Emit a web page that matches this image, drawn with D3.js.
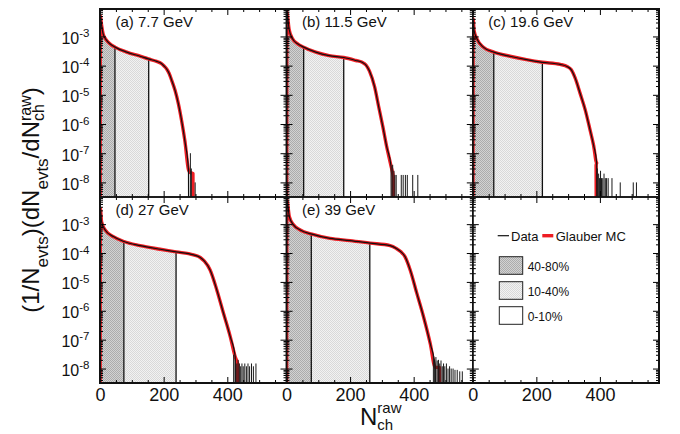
<!DOCTYPE html>
<html><head><meta charset="utf-8">
<script src="https://cdn.jsdelivr.net/npm/d3@7"></script>
<style>
body{margin:0;background:#fff}
svg{display:block}
text{font-family:"Liberation Sans",Arial,Helvetica,sans-serif;fill:#111}
</style></head>
<body><svg id="c" width="680" height="434"></svg>
<script>
// ---------------- data ----------------
const panelLabels = ["(a) 7.7 GeV", "(b) 11.5 GeV", "(c) 19.6 GeV", "(d) 27 GeV", "(e) 39 GeV"];
// centrality cut positions (N_ch^raw) : 40% and 10%
const cut40 = [47, 54, 66, 75, 78];
const cut10 = [153, 180, 219, 239, 262];
// main distributions [N_ch^raw, (1/Nevts) dN/dN_ch]
const body_a = [[1,5.2e-3],[5,2.4e-3],[10,1.2e-3],[21,7.3e-4],[31,5.6e-4],[47,4.3e-4],[84,2.9e-4],[126,2.1e-4],[152,1.7e-4],[178,1.4e-4],[192,1.2e-4],[202,9.5e-5],[210,7.5e-5],[217,5.5e-5],[225,3.2e-5],[236,1.4e-5],[246,5.1e-6],[257,1.2e-6],[267,2.5e-7],[278,2.7e-8]];
const body_b = [[1,7e-3],[8,1.8e-3],[19,8.3e-4],[35,5.6e-4],[54,4.3e-4],[92,2.9e-4],[134,2.2e-4],[180,1.9e-4],[218,1.5e-4],[238,1.3e-4],[250,1.05e-4],[261,6.5e-5],[277,1.9e-5],[290,3.9e-6],[303,8.1e-7],[315,1.7e-7],[329,3.5e-8]];
const body_c = [[1,4e-3],[4,1.6e-3],[13,8.3e-4],[33,4.3e-4],[66,2.9e-4],[117,2.1e-4],[169,1.6e-4],[219,1.3e-4],[275,1.1e-4],[298,9.2e-5],[310,7.2e-5],[322,3.8e-5],[338,1.1e-5],[354,3e-6],[369,6.3e-7],[380,1.9e-7],[390,4.6e-8]];
const body_d = [[1,3.6e-3],[5,1.2e-3],[16,6.3e-4],[42,3.7e-4],[75,2.5e-4],[126,1.8e-4],[189,1.35e-4],[239,1.1e-4],[294,8.6e-5],[315,7e-5],[328,5.2e-5],[346,2.6e-5],[367,5.3e-6],[388,8.2e-7],[409,1.3e-7],[425,2.5e-8]];
const body_e = [[1,7e-3],[9,1.8e-3],[22,9.5e-4],[43,6.3e-4],[80,4.5e-4],[137,3.2e-4],[200,2.7e-4],[263,2.2e-4],[326,1.8e-4],[345,1.45e-4],[360,1.1e-4],[373,7.4e-5],[389,2.6e-5],[410,4e-6],[431,6.2e-7],[452,7.4e-8],[468,1.1e-8]];
// Glauber MC end of tail
const mcTail_a = [[283,2.2e-8],[292,2e-8]];
const mcTail_b = [[336,1.5e-8]];
const mcTail_c = [[388,4e-8]];
const mcTail_d = [[432,1.5e-8]];
const mcTail_e = [[474,1.1e-8],[481,1.1e-8]];
// Data: isolated single-event bins in the tail
const spikes_a = [[284,1e-7],[287,3e-8],[299,1e-8]];
const spikes_b = [[334,4e-8],[338,2.5e-8],[341,1.8e-8],[345,1.8e-8],[361,1.8e-8],[367,1.8e-8],[374,1.8e-8],[380,1.8e-8],[397,1.8e-8],[413,1.8e-8]];
const spikes_c = [[392,3e-8],[396,2e-8],[399,1.4e-8],[402,2.5e-8],[405,1.4e-8],[409,1.4e-8],[413,2e-8],[417,1.4e-8],[421,1.4e-8],[426,1.4e-8],[438,1.4e-8],[464,1e-8],[505,1e-8],[515,1e-8]];
const spikes_d = [[420,3e-8],[425,2e-8],[430,1.5e-8],[434,2e-8],[438,1.5e-8],[442,1.2e-8],[446,1.5e-8],[450,1.2e-8],[455,1.5e-8],[460,1.2e-8],[465,1.5e-8],[470,1.2e-8],[476,1.5e-8],[482,1.2e-8],[490,1.5e-8]];
const spikes_e = [[462,3e-8],[466,2e-8],[470,2.5e-8],[474,1.9e-8],[478,2e-8],[482,1.5e-8],[486,1.9e-8],[490,1.2e-8],[494,1.5e-8],[498,1.2e-8],[503,1.5e-8],[508,1e-8],[513,1.2e-8],[518,1e-8],[524,1e-8],[530,9e-9],[537,9e-9],[545,8e-9],[553,8e-9]];
const xTickLabels = [0, 200, 400];
const yTickExps = [-8, -7, -6, -5, -4, -3];
const legendSeries = ["Data", "Glauber MC"];
const legendClasses = ["40-80%", "10-40%", "0-10%"];

// ---------------- layout ----------------
const FLOOR = 1e-9;
const X_MAX = 586;
const Y_MIN = Math.pow(10, -8.5), Y_MAX = Math.pow(10, -2.06);
const colX = [100, 286.5, 472.8, 659];
const rowY = [9, 197, 383];
const RED = "#ee1d23";

const svg = d3.select("#c");
const defs = svg.append("defs");
function pattern(id, a, b) {
  const p = defs.append("pattern").attr("id", id).attr("width", 2).attr("height", 2).attr("patternUnits", "userSpaceOnUse");
  p.append("rect").attr("width", 2).attr("height", 2).attr("fill", a);
  p.append("rect").attr("width", 1).attr("height", 1).attr("fill", b);
  p.append("rect").attr("x", 1).attr("y", 1).attr("width", 1).attr("height", 1).attr("fill", b);
}
pattern("pDark", "#d2d2d2", "#acacac");
pattern("pLight", "#f2f2f2", "#d9d9d9");

const panels = [
  {body: body_a, tail: mcTail_a, spikes: spikes_a},
  {body: body_b, tail: mcTail_b, spikes: spikes_b},
  {body: body_c, tail: mcTail_c, spikes: spikes_c},
  {body: body_d, tail: mcTail_d, spikes: spikes_d},
  {body: body_e, tail: mcTail_e, spikes: spikes_e}
];

const yMinor = [];
for (let e = -9; e <= -2; e++) for (let k = 2; k <= 9; k++) { const v = k * Math.pow(10, e); if (v >= Y_MIN && v <= Y_MAX) yMinor.push(v); }
const yMajor = yTickExps.map(e => Math.pow(10, e));
const xMinor = d3.range(0, X_MAX, 50).filter(n => n % 200 !== 0);
const xMajor = d3.range(0, X_MAX, 200);

for (let i = 0; i < 6; i++) {
  const col = i % 3, row = Math.floor(i / 3);
  const x0 = colX[col], x1 = colX[col + 1], y0 = rowY[row], y1 = rowY[row + 1];
  const x = d3.scaleLinear().domain([0, X_MAX]).range([x0, x1]);
  const y = d3.scaleLog().domain([Y_MIN, Y_MAX]).range([y1, y0]);
  const g = svg.append("g");
  defs.append("clipPath").attr("id", "cp" + i).append("rect")
    .attr("x", x0).attr("y", y0).attr("width", x1 - x0).attr("height", y1 - y0);

  if (i < 5) {
    const p = panels[i];
    const last = p.body[p.body.length - 1][0];
    const dataPts = [[p.body[0][0] - 0.5, FLOOR], ...p.body, [last + 0.5, FLOOR]];
    const tl = p.tail[p.tail.length - 1][0];
    const mcPts = [[p.body[0][0] - 0.5, FLOOR], ...p.body, ...p.tail, [tl + 0.5, FLOOR]];
    const line = d3.line().x(d => x(d[0])).y(d => y(d[1])).curve(d3.curveMonotoneX);
    const area = d3.area().x(d => x(d[0])).y0(y(FLOOR)).y1(d => y(d[1])).curve(d3.curveMonotoneX);
    defs.append("clipPath").attr("id", "ua" + i).append("path").attr("d", area(dataPts));

    const inner = g.append("g").attr("clip-path", `url(#cp${i})`);
    const shade = inner.append("g").attr("clip-path", `url(#ua${i})`);
    shade.append("rect").attr("x", x(0)).attr("y", y0).attr("width", x(cut40[i]) - x(0)).attr("height", y1 - y0).attr("fill", "url(#pDark)");
    shade.append("rect").attr("x", x(cut40[i])).attr("y", y0).attr("width", x(cut10[i]) - x(cut40[i])).attr("height", y1 - y0).attr("fill", "url(#pLight)");
    [cut40[i], cut10[i]].forEach(c => {
      shade.append("line").attr("x1", x(c)).attr("x2", x(c)).attr("y1", y0).attr("y2", y1)
        .attr("stroke", "#111").attr("stroke-width", 1.3);
    });
    inner.append("path").attr("d", line(mcPts)).attr("fill", "none").attr("stroke", RED).attr("stroke-width", 3.4).attr("stroke-linejoin", "round");
    inner.append("path").attr("d", line(dataPts)).attr("fill", "none").attr("stroke", "#111").attr("stroke-width", 1.2);
    inner.selectAll("line.sp").data(p.spikes).join("line").attr("class", "sp")
      .attr("x1", d => x(d[0])).attr("x2", d => x(d[0])).attr("y1", y(FLOOR)).attr("y2", d => y(d[1]))
      .attr("stroke", "#1a1a1a").attr("stroke-width", 1);

    g.append("text").attr("x", x0 + 15.5).attr("y", y0 + 17.7).attr("font-size", 15).text(panelLabels[i]);
  }

  // axes (ticks inward on all 4 sides)
  const strip = s => s.call(a => a.select(".domain").remove());
  g.append("g").attr("transform", `translate(0,${y1})`).call(d3.axisBottom(x).tickValues(xMinor).tickSizeInner(-3).tickSizeOuter(0).tickFormat("")).call(strip);
  const xb = g.append("g").attr("transform", `translate(0,${y1})`)
    .call(d3.axisBottom(x).tickValues(row === 1 ? xTickLabels : xMajor).tickSizeInner(-6).tickSizeOuter(0).tickPadding(5)
      .tickFormat(row === 1 ? d3.format("d") : "")).call(strip);
  xb.selectAll("text").attr("font-size", 18).attr("fill", "#111").attr("font-family", null);
  g.append("g").attr("transform", `translate(0,${y0})`).call(d3.axisTop(x).tickValues(xMinor).tickSizeInner(-3).tickSizeOuter(0).tickFormat("")).call(strip);
  g.append("g").attr("transform", `translate(0,${y0})`).call(d3.axisTop(x).tickValues(xMajor).tickSizeInner(-6).tickSizeOuter(0).tickFormat("")).call(strip);
  g.append("g").attr("transform", `translate(${x0},0)`).call(d3.axisLeft(y).tickValues(yMinor).tickSizeInner(-3).tickSizeOuter(0).tickFormat("")).call(strip);
  const yl = g.append("g").attr("transform", `translate(${x0},0)`)
    .call(d3.axisLeft(y).tickValues(yMajor).tickSizeInner(-6).tickSizeOuter(0).tickPadding(10.5).tickFormat(col === 0 ? (d => "x") : "")).call(strip);
  if (col === 0) {
    yl.selectAll(".tick text").each(function(d) {
      const t = d3.select(this);
      t.text(null).attr("dy", 6.8).attr("font-size", 16).attr("font-family", null).attr("fill", "#111");
      t.append("tspan").text("10");
      t.append("tspan").attr("dy", -6.6).attr("font-size", 11.5).text(String(Math.round(Math.log10(d))));
    });
  }
  g.append("g").attr("transform", `translate(${x1},0)`).call(d3.axisRight(y).tickValues(yMinor).tickSizeInner(-3).tickSizeOuter(0).tickFormat("")).call(strip);
  g.append("g").attr("transform", `translate(${x1},0)`).call(d3.axisRight(y).tickValues(yMajor).tickSizeInner(-6).tickSizeOuter(0).tickFormat("")).call(strip);

  g.append("rect").attr("x", x0).attr("y", y0).attr("width", x1 - x0).attr("height", y1 - y0)
    .attr("fill", "none").attr("stroke", "#111").attr("stroke-width", 1.5);
}
svg.append("rect").attr("x", colX[0]).attr("y", rowY[0]).attr("width", colX[3] - colX[0]).attr("height", rowY[2] - rowY[0])
  .attr("fill", "none").attr("stroke", "#111").attr("stroke-width", 2);

// ---------------- legend ----------------
const lg = svg.append("g");
lg.append("line").attr("x1", 497.7).attr("x2", 509).attr("y1", 235.7).attr("y2", 235.7).attr("stroke", "#111").attr("stroke-width", 1.2);
lg.append("text").attr("x", 511).attr("y", 240.5).attr("font-size", 13).text(legendSeries[0]);
lg.append("line").attr("x1", 542.3).attr("x2", 553.3).attr("y1", 235.7).attr("y2", 235.7).attr("stroke", RED).attr("stroke-width", 3.4);
lg.append("text").attr("x", 555.7).attr("y", 240.5).attr("font-size", 13).text(legendSeries[1]);
const fills = ["url(#pDark)", "url(#pLight)", "#fff"];
legendClasses.forEach((c, k) => {
  lg.append("rect").attr("x", 499.3).attr("y", 256.7 + 25 * k).attr("width", 23.4).attr("height", 17.6)
    .attr("fill", fills[k]).attr("stroke", "#222").attr("stroke-width", 1);
  lg.append("text").attr("x", 527.7).attr("y", 271 + 25 * k).attr("font-size", 12).text(c);
});

// ---------------- axis titles ----------------
function rich(parent, runs) {
  const g = parent.append("g");
  let cx = 0;
  for (let i = 0; i < runs.length; i++) {
    const r = runs[i];
    const t = g.append("text").attr("x", cx).attr("y", r.dy || 0).attr("font-size", r.size).text(r.t);
    let w = t.node().getComputedTextLength();
    if (r.stack) {
      const r2 = runs[++i];
      const t2 = g.append("text").attr("x", cx).attr("y", r2.dy || 0).attr("font-size", r2.size).text(r2.t);
      w = Math.max(w, t2.node().getComputedTextLength());
    }
    cx += w;
  }
  return {g, width: cx};
}
const yt = rich(svg, [
  {t: "(1/N", size: 24}, {t: "evts", size: 17, dy: 9}, {t: ")(dN", size: 24}, {t: "evts", size: 17, dy: 9},
  {t: "/dN", size: 24}, {t: "raw", size: 16, dy: -8, stack: true}, {t: "ch", size: 16, dy: 5}, {t: ")", size: 24}
]);
yt.g.attr("transform", `translate(39,${200 + yt.width / 2}) rotate(-90)`);
const xt = rich(svg, [{t: "N", size: 24}, {t: "raw", size: 15, dy: -12.3, stack: true}, {t: "ch", size: 15, dy: 5}]);
xt.g.attr("transform", "translate(360,425)");
</script></body></html>
